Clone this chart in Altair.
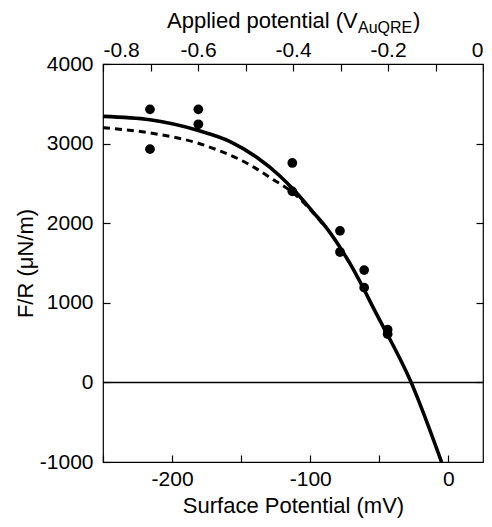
import altair as alt
import pandas as pd

# ---- data ----
surf_pts = [-216, -216, -181, -181, -113, -113, -78.5, -78.5, -61, -61, -44, -44]
fr_pts = [3430, 2930, 3430, 3243, 2757, 2400, 1904, 1638, 1411, 1190, 662, 606]

solid_x = [-250, -216, -181, -158, -139, -122, -112, -98, -88, -71, -52, -27, -5]
solid_y = [3342, 3299, 3165, 3026, 2831, 2593, 2420, 2140, 1935, 1485, 857, 0, -1000]

dash_x = [-250, -216, -181, -165, -151, -142, -127, -113, -100, -90]
dash_y = [3199, 3134, 3004, 2905, 2800, 2715, 2550, 2390, 2170, 1970]

applied_range = [-0.8, 0.0]
zero_level = [0]

bottom_ticks = [-250, -200, -150, -100, -50, 0]
top_ticks = [-0.8, -0.7, -0.6, -0.5, -0.4, -0.3, -0.2, -0.1, 0.0]
y_ticks = [-1000, 0, 1000, 2000, 3000, 4000]
right_ticks = [0, 1000, 2000, 3000]

FONT = "Liberation Sans"
FS = 21
TFS = 22

pts = pd.DataFrame({"sp": surf_pts, "fr": fr_pts})
solid = pd.DataFrame({"sp": solid_x, "fr": solid_y})
dash = pd.DataFrame({"sp": dash_x, "fr": dash_y})
zero = pd.DataFrame({"a0": [applied_range[0]], "a1": [applied_range[1]], "fr": zero_level})

xs = alt.Scale(domain=[-250, 25], nice=False, zero=False)
ys = alt.Scale(domain=[-1000, 4000], nice=False, zero=False)
xa = alt.Scale(domain=applied_range, nice=False, zero=False)

common_axis = dict(domain=False, grid=False, tickSize=7, offset=-7, tickColor="black",
                   tickWidth=1.2, labelColor="black", labelFont=FONT, labelFontSize=FS,
                   titleFont=FONT, titleFontSize=TFS, titleColor="black", titleFontWeight="normal")

bottom_axis = alt.Axis(values=bottom_ticks, orient="bottom", labelPadding=6,
                       labelExpr="datum.value % 100 == 0 ? replace(datum.label, '\u2212', '-') : ''",
                       title="Surface Potential (mV)", titlePadding=6, **common_axis)
left_axis = alt.Axis(values=y_ticks, orient="left", labelPadding=10,
                     labelExpr="replace(datum.label, '\u2212', '-')", format="d",
                     title="F/R (\u03bcN/m)", titlePadding=2, **common_axis)
top_axis = alt.Axis(values=top_ticks, orient="top", labelPadding=4,
                    labelExpr="abs(round(datum.value*10)) % 2 == 0 ? (datum.value == 0 ? '0' : replace(format(datum.value, '.1f'), '\u2212', '-')) : ''",
                    title=None, **common_axis)
right_axis = alt.Axis(values=right_ticks, orient="right", labels=False, title=None, **common_axis)

points = alt.Chart(pts).mark_circle(size=95, color="black", opacity=1).encode(
    x=alt.X("sp:Q", scale=xs, axis=bottom_axis),
    y=alt.Y("fr:Q", scale=ys, axis=left_axis),
)
solid_line = alt.Chart(solid).mark_line(color="black", strokeWidth=3.6, interpolate="monotone").encode(
    x=alt.X("sp:Q", scale=xs, axis=bottom_axis),
    y=alt.Y("fr:Q", scale=ys, axis=left_axis),
    order=alt.Order("sp:Q"),
)
dash_line = alt.Chart(dash).mark_line(color="black", strokeWidth=3, strokeDash=[7, 5], interpolate="monotone").encode(
    x=alt.X("sp:Q", scale=xs, axis=bottom_axis),
    y=alt.Y("fr:Q", scale=ys, axis=left_axis),
    order=alt.Order("sp:Q"),
)
zero_line = alt.Chart(zero).mark_rule(color="black", strokeWidth=1.5).encode(
    x=alt.X("a0:Q", scale=xa, axis=top_axis),
    x2="a1:Q",
    y=alt.Y("fr:Q", scale=ys, axis=right_axis),
)

t_main = alt.Chart(zero).mark_text(text="Applied potential (V", font=FONT, fontSize=22, align="left",
                                   baseline="alphabetic", color="black").encode(
    x=alt.value(64), y=alt.value(-36))
t_sub = alt.Chart(zero).mark_text(text="AuQRE", font=FONT, fontSize=16, align="left",
                                  baseline="alphabetic", color="black").encode(
    x=alt.value(255), y=alt.value(-31))
t_par = alt.Chart(zero).mark_text(text=")", font=FONT, fontSize=22, align="left",
                                  baseline="alphabetic", color="black").encode(
    x=alt.value(310), y=alt.value(-36))

base = alt.layer(points, solid_line, dash_line)
chart = alt.layer(base, zero_line, t_main, t_sub, t_par).resolve_scale(x="independent").resolve_axis(
    x="independent", y="independent"
).properties(
    width=380, height=398,
    autosize=alt.AutoSizeParams(type="none"),
    padding={"left": 95, "top": 56, "right": 1, "bottom": 57},
).configure_view(stroke="black", strokeWidth=1.2)

chart.save("out.html", embed_options={"renderer": "svg", "actions": False})
